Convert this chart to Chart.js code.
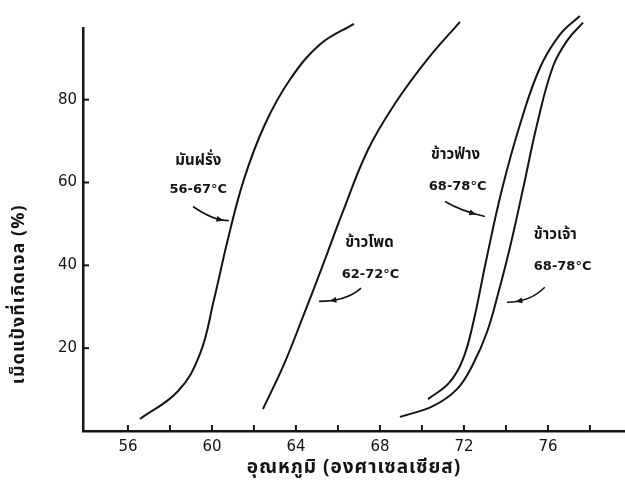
<!DOCTYPE html>
<html>
<head>
<meta charset="utf-8">
<script src="https://cdn.jsdelivr.net/npm/chart.js@4/dist/chart.umd.min.js"></script>
<style>
  html, body { margin: 0; padding: 0; background: #fff; }
  #wrap { width: 625px; height: 488px; }
</style>
</head>
<body>
<div id="wrap"><canvas id="chart" width="625" height="488"></canvas></div>
<script>
// starch types and their gelatinization ranges
const crops = ['มันฝรั่ง', 'ข้าวโพด', 'ข้าวฟ่าง', 'ข้าวเจ้า'];
const gelRanges = ['56-67°C', '62-72°C', '68-78°C', '68-78°C'];

// temperature (°C) vs gelatinized granules (%)
const potatoTemp = [56.57, 58.38, 59.43, 60.10, 60.76, 61.52, 62.52, 63.71, 65.14, 66.76];
const potatoGel  = [2.9, 9.6, 18.6, 31.8, 46.3, 60.7, 74.0, 84.8, 93.3, 98.3];

const cornTemp = [62.43, 63.43, 64.29, 65.24, 66.24, 67.43, 68.71, 70.24, 71.81];
const cornGel  = [5.3, 16.1, 27.0, 39.5, 53.0, 67.9, 79.0, 89.6, 98.8];

const sorghumTemp = [70.29, 71.29, 71.95, 72.48, 73.05, 73.81, 74.67, 75.62, 76.57, 77.52];
const sorghumGel  = [7.7, 11.6, 17.3, 27.0, 41.0, 58.3, 74.0, 87.7, 95.7, 100.2];

const riceTemp = [68.95, 70.52, 71.67, 72.43, 73.10, 73.62, 74.19, 74.86, 75.48, 76.24, 76.95, 77.67];
const riceGel  = [3.4, 6.0, 10.1, 16.1, 23.9, 33.0, 44.3, 59.5, 74.0, 88.0, 94.5, 98.6];

const xTitle = 'อุณหภูมิ (องศาเซลเซียส)';
const yTitle = 'เม็ดแป้งที่เกิดเจล (%)';

const thaiFont = "'Noto Sans Thai', 'Noto Sans Thai UI', Loma, Garuda, 'Tlwg Typo', 'DejaVu Sans', sans-serif";
const ink = '#141414';

function toPoints(xs, ys) {
    return xs.map((x, i) => ({ x: x, y: ys[i] }));
}

function curve(label, xs, ys) {
    return {
        label: label,
        data: toPoints(xs, ys),
        borderColor: ink,
        borderWidth: 2,
        pointRadius: 0,
        tension: 0.4,
        clip: 16
    };
}

// label + arrow placement in data units (x = °C, y = %)
const notePlacement = [
    { name: [59.35, 65], range: [59.35, 58.3], from: [59.1, 54.2], ctrl: [60.05, 50.8], to: [60.8, 50.8] },
    { name: [67.5, 45.1], range: [67.55, 37.8], from: [67.1, 34.5], ctrl: [66.4, 31.3], to: [65.1, 31.3] },
    { name: [71.6, 66.3], range: [71.7, 59.0], from: [71.1, 55.4], ctrl: [71.9, 53.0], to: [73.0, 51.8] },
    { name: [76.35, 47], range: [76.7, 39.8], from: [75.85, 34.7], ctrl: [75.15, 31.1], to: [74.05, 31.1] }
];

// inward tick marks, curve notes and the two axis titles
const sketchPlugin = {
    id: 'sketch',
    afterDraw(chart) {
        const ctx = chart.ctx;
        const xs = chart.scales.x;
        const ys = chart.scales.y;
        const area = chart.chartArea;
        ctx.save();
        ctx.strokeStyle = ink;
        ctx.lineWidth = 2;
        xs.ticks.forEach(t => {
            const px = xs.getPixelForValue(t.value);
            if (px - area.left < 20) return;
            ctx.beginPath();
            ctx.moveTo(px, area.bottom);
            ctx.lineTo(px, area.bottom - 6);
            ctx.stroke();
        });
        ys.ticks.forEach(t => {
            if (t.value === 0) return;
            const py = ys.getPixelForValue(t.value);
            ctx.beginPath();
            ctx.moveTo(area.left, py);
            ctx.lineTo(area.left + 6, py);
            ctx.stroke();
        });

        const P = p => [xs.getPixelForValue(p[0]), ys.getPixelForValue(p[1])];
        ctx.fillStyle = ink;
        ctx.textAlign = 'center';
        ctx.textBaseline = 'middle';
        notePlacement.forEach((n, i) => {
            const a = P(n.name), b = P(n.range);
            ctx.font = "bold 15px " + thaiFont;
            ctx.fillText(crops[i], a[0], a[1]);
            ctx.font = "bold 13px 'DejaVu Sans', sans-serif";
            ctx.fillText(gelRanges[i], b[0], b[1]);

            const s = P(n.from), c = P(n.ctrl), e = P(n.to);
            ctx.lineWidth = 1.6;
            ctx.beginPath();
            ctx.moveTo(s[0], s[1]);
            ctx.quadraticCurveTo(c[0], c[1], e[0], e[1]);
            ctx.stroke();
            // small barb a little before the end
            const tt = 0.72;
            const hx = (1 - tt) * (1 - tt) * s[0] + 2 * (1 - tt) * tt * c[0] + tt * tt * e[0];
            const hy = (1 - tt) * (1 - tt) * s[1] + 2 * (1 - tt) * tt * c[1] + tt * tt * e[1];
            const dx = 2 * (1 - tt) * (c[0] - s[0]) + 2 * tt * (e[0] - c[0]);
            const dy = 2 * (1 - tt) * (c[1] - s[1]) + 2 * tt * (e[1] - c[1]);
            const ang = Math.atan2(dy, dx);
            ctx.beginPath();
            ctx.moveTo(hx + 4 * Math.cos(ang), hy + 4 * Math.sin(ang));
            ctx.lineTo(hx - 3 * Math.cos(ang) - 3 * Math.sin(ang), hy - 3 * Math.sin(ang) + 3 * Math.cos(ang));
            ctx.lineTo(hx - 3 * Math.cos(ang) + 3 * Math.sin(ang), hy - 3 * Math.sin(ang) - 3 * Math.cos(ang));
            ctx.closePath();
            ctx.fill();
        });

        ctx.letterSpacing = '1px';
        ctx.font = "bold 19px " + thaiFont;
        ctx.fillText(xTitle, (area.left + area.right) / 2, area.bottom + 38);

        // y title sits lower than the axis middle in the original
        ctx.translate(20, ys.getPixelForValue(33));
        ctx.rotate(-Math.PI / 2);
        ctx.font = "bold 18px " + thaiFont;
        ctx.fillText(yTitle, 0, 0);
        ctx.restore();
    }
};

new Chart(document.getElementById('chart'), {
    type: 'line',
    data: {
        datasets: [
            curve(crops[0], potatoTemp, potatoGel),
            curve(crops[1], cornTemp, cornGel),
            curve(crops[2], sorghumTemp, sorghumGel),
            curve(crops[3], riceTemp, riceGel)
        ]
    },
    options: {
        responsive: false,
        animation: false,
        layout: { padding: { top: 28, right: 0, left: 0, bottom: 0 } },
        plugins: {
            legend: { display: false },
            tooltip: { enabled: false }
        },
        scales: {
            x: {
                type: 'linear',
                min: 53.86,
                max: 79.67,
                afterFit: s => { s.height = 57; },
                border: { color: ink, width: 2.5 },
                grid: { display: false, drawTicks: false, tickLength: 0 },
                ticks: {
                    stepSize: 2,
                    includeBounds: false,
                    autoSkip: false,
                    maxRotation: 0,
                    padding: 7,
                    color: ink,
                    font: { family: "'DejaVu Sans', sans-serif", size: 15 },
                    callback: v => (v % 4 === 0 ? String(v) : '')
                }
            },
            y: {
                min: 0,
                max: 97.3,
                afterFit: s => { s.width = 83; },
                border: { color: ink, width: 2.5 },
                grid: { display: false, drawTicks: false, tickLength: 0 },
                ticks: {
                    stepSize: 20,
                    includeBounds: false,
                    padding: 6,
                    color: ink,
                    font: { family: "'DejaVu Sans', sans-serif", size: 15 },
                    callback: v => (v === 0 ? '' : String(v))
                }
            }
        }
    },
    plugins: [sketchPlugin]
});
</script>
</body>
</html>
